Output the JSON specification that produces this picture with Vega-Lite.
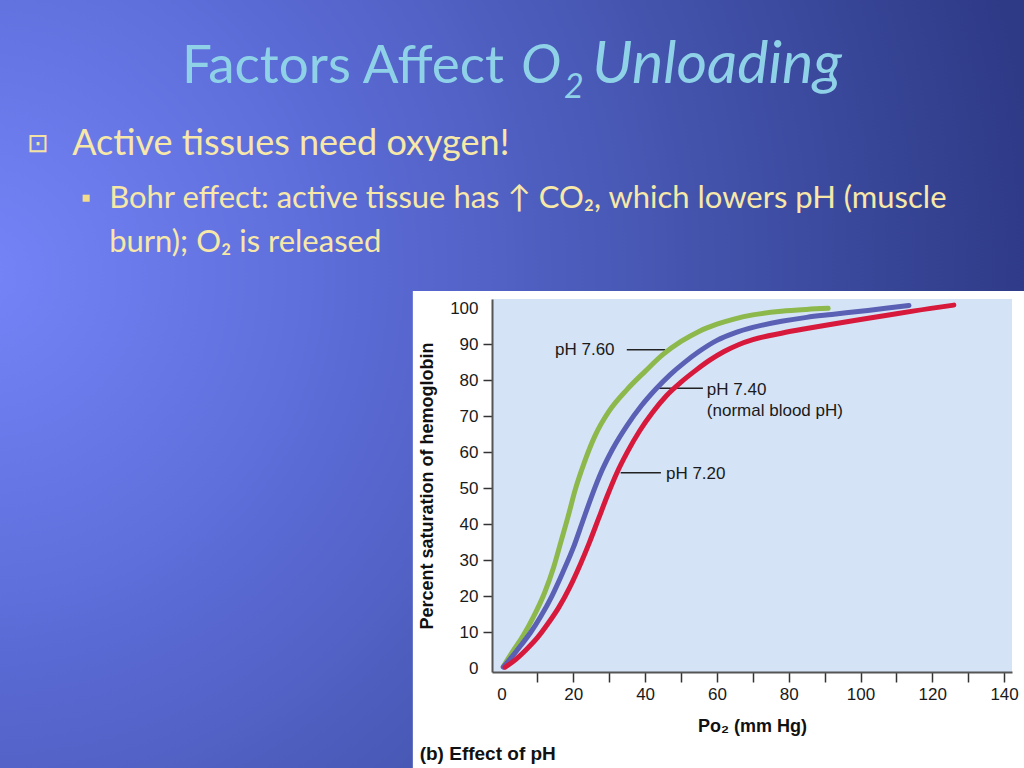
{
  "$schema": "https://vega.github.io/schema/vega-lite/v6.json",
  "width": 520,
  "height": 373,
  "autosize": {"type": "none"},
  "padding": {"left": 492, "top": 299, "right": 12, "bottom": 96},
  "background": "#4a59b4",
  "resolve": {"axis": {"x": "independent", "y": "independent"}},
  "config": {
    "view": {"stroke": null},
    "axis": {
      "grid": false,
      "domainColor": "#555555", "domainWidth": 2,
      "tickColor": "#333333", "tickWidth": 1.5,
      "labelFont": "Liberation Sans", "labelFontSize": 17, "labelColor": "#1a1a1a",
      "titleFont": "Liberation Sans", "titleFontSize": 18, "titleFontWeight": "bold", "titleColor": "#111111"
    }
  },
  "datasets": {
    "curves": [
      {"series": "pH 7.60", "x": 0.5, "y": 0.5}, {"series": "pH 7.60", "x": 3, "y": 4.5}, {"series": "pH 7.60", "x": 6, "y": 9},
      {"series": "pH 7.60", "x": 9, "y": 14.5}, {"series": "pH 7.60", "x": 12, "y": 21}, {"series": "pH 7.60", "x": 14.5, "y": 28},
      {"series": "pH 7.60", "x": 16.5, "y": 35}, {"series": "pH 7.60", "x": 18.5, "y": 42}, {"series": "pH 7.60", "x": 20.5, "y": 49.5},
      {"series": "pH 7.60", "x": 23, "y": 57}, {"series": "pH 7.60", "x": 26, "y": 64.5}, {"series": "pH 7.60", "x": 30, "y": 71.5},
      {"series": "pH 7.60", "x": 35, "y": 77.5}, {"series": "pH 7.60", "x": 40, "y": 82.5}, {"series": "pH 7.60", "x": 45, "y": 87.2},
      {"series": "pH 7.60", "x": 50, "y": 90.8}, {"series": "pH 7.60", "x": 55, "y": 93.6}, {"series": "pH 7.60", "x": 60, "y": 95.6},
      {"series": "pH 7.60", "x": 65, "y": 97.1}, {"series": "pH 7.60", "x": 70, "y": 98.2}, {"series": "pH 7.60", "x": 78, "y": 99.2},
      {"series": "pH 7.60", "x": 85, "y": 99.7}, {"series": "pH 7.60", "x": 91, "y": 100},
      {"series": "pH 7.40", "x": 0.5, "y": 0.3}, {"series": "pH 7.40", "x": 3, "y": 3.3}, {"series": "pH 7.40", "x": 5.5, "y": 6.5},
      {"series": "pH 7.40", "x": 8, "y": 9.8}, {"series": "pH 7.40", "x": 11, "y": 14.5}, {"series": "pH 7.40", "x": 14, "y": 20},
      {"series": "pH 7.40", "x": 17, "y": 26.5}, {"series": "pH 7.40", "x": 20, "y": 33.5}, {"series": "pH 7.40", "x": 22.5, "y": 40.5},
      {"series": "pH 7.40", "x": 25, "y": 47.5}, {"series": "pH 7.40", "x": 28, "y": 55}, {"series": "pH 7.40", "x": 31, "y": 61},
      {"series": "pH 7.40", "x": 35, "y": 67.5}, {"series": "pH 7.40", "x": 39, "y": 73}, {"series": "pH 7.40", "x": 43, "y": 77.6},
      {"series": "pH 7.40", "x": 47, "y": 81.6}, {"series": "pH 7.40", "x": 51, "y": 85}, {"series": "pH 7.40", "x": 55, "y": 88},
      {"series": "pH 7.40", "x": 60, "y": 91.1}, {"series": "pH 7.40", "x": 65, "y": 93.2}, {"series": "pH 7.40", "x": 70, "y": 94.7},
      {"series": "pH 7.40", "x": 78, "y": 96.4}, {"series": "pH 7.40", "x": 85, "y": 97.5}, {"series": "pH 7.40", "x": 92, "y": 98.3},
      {"series": "pH 7.40", "x": 100, "y": 99.2}, {"series": "pH 7.40", "x": 107, "y": 100}, {"series": "pH 7.40", "x": 113.5, "y": 100.8},
      {"series": "pH 7.20", "x": 1, "y": 0.3}, {"series": "pH 7.20", "x": 4, "y": 2.5}, {"series": "pH 7.20", "x": 7, "y": 5.3},
      {"series": "pH 7.20", "x": 10, "y": 8.5}, {"series": "pH 7.20", "x": 13, "y": 12.5}, {"series": "pH 7.20", "x": 16, "y": 17},
      {"series": "pH 7.20", "x": 19, "y": 22.5}, {"series": "pH 7.20", "x": 22, "y": 29}, {"series": "pH 7.20", "x": 24.5, "y": 35},
      {"series": "pH 7.20", "x": 27, "y": 41.5}, {"series": "pH 7.20", "x": 29.5, "y": 48}, {"series": "pH 7.20", "x": 32, "y": 54},
      {"series": "pH 7.20", "x": 35, "y": 60}, {"series": "pH 7.20", "x": 38.5, "y": 66}, {"series": "pH 7.20", "x": 42, "y": 71},
      {"series": "pH 7.20", "x": 46, "y": 75.8}, {"series": "pH 7.20", "x": 50, "y": 79.5}, {"series": "pH 7.20", "x": 54, "y": 82.7},
      {"series": "pH 7.20", "x": 58, "y": 85.6}, {"series": "pH 7.20", "x": 62, "y": 88}, {"series": "pH 7.20", "x": 66, "y": 89.9},
      {"series": "pH 7.20", "x": 70, "y": 91.3}, {"series": "pH 7.20", "x": 78, "y": 93.1}, {"series": "pH 7.20", "x": 85, "y": 94.4},
      {"series": "pH 7.20", "x": 92, "y": 95.6}, {"series": "pH 7.20", "x": 100, "y": 96.9}, {"series": "pH 7.20", "x": 107, "y": 98},
      {"series": "pH 7.20", "x": 115, "y": 99.3}, {"series": "pH 7.20", "x": 126, "y": 100.9}
    ],
    "labels": [
      {"label": "pH 7.60", "x": 14.9, "y": 88.4},
      {"label": "pH 7.40", "x": 57.2, "y": 77.4},
      {"label": "(normal blood pH)", "x": 57.2, "y": 71.5},
      {"label": "pH 7.20", "x": 45.8, "y": 54.1}
    ],
    "leaders": [
      {"x1": 34.9, "x2": 45.6, "y": 88.5},
      {"x1": 42.5, "x2": 56.1, "y": 77.8},
      {"x1": 33.2, "x2": 44.4, "y": 54.3}
    ]
  },
  "layer": [
    {
      "data": {"name": "curves"},
      "mark": {"type": "line", "interpolate": "monotone", "strokeWidth": 5, "strokeCap": "round", "clip": false, "opacity": 0},
      "encoding": {
        "x": {"field": "x", "type": "quantitative",
          "scale": {"domain": [-2.65, 142.2], "nice": false, "zero": false},
          "axis": {"zindex": 2, "values": [0, 10, 20, 30, 40, 50, 60, 70, 80, 90, 100, 110, 120, 130, 140], "title": "Po₂ (mm Hg)", "titlePadding": 15,
            "tickSize": 10, "labelPadding": 4, "labelOverlap": false, "labelExpr": "datum.value % 20 === 0 ? datum.label : ''",
            "tickOpacity": {"condition": {"test": "datum.value == 0", "value": 0}, "value": 1}}},
        "y": {"field": "y", "type": "quantitative",
          "scale": {"domain": [-1.03, 102.6], "nice": false, "zero": false},
          "axis": {"zindex": 2, "values": [0, 10, 20, 30, 40, 50, 60, 70, 80, 90, 100], "title": "Percent saturation of hemoglobin", "titlePadding": 13,
            "tickSize": 9, "labelPadding": 5, "labelOverlap": false,
            "tickOpacity": {"condition": {"test": "datum.value == 0 || datum.value == 100", "value": 0}, "value": 1}}},
        "detail": {"field": "series"}
      }
    },
    {
      "data": {"values": [{}]},
      "mark": {"type": "rect", "clip": false, "fill": {"gradient": "radial", "x1": 0, "y1": 0.4, "r1": 0, "x2": 0, "y2": 0.4, "r2": 1,
        "stops": [{"offset": 0, "color": "#7585f8"}, {"offset": 0.35, "color": "#5b6bd6"}, {"offset": 0.7, "color": "#4252aa"}, {"offset": 1, "color": "#2e3a86"}]}},
      "encoding": {
        "x": {"datum": -145, "type": "quantitative", "axis": null},
        "x2": {"datum": 150},
        "y": {"datum": -30, "type": "quantitative", "axis": null},
        "y2": {"datum": 190}
      }
    },
    {
      "data": {"values": [{}]},
      "mark": {"type": "rect", "clip": false, "fill": "#ffffff"},
      "encoding": {
        "x": {"datum": -24.7, "type": "quantitative", "axis": null},
        "x2": {"datum": 150},
        "y": {"datum": -30, "type": "quantitative", "axis": null},
        "y2": {"datum": 104.8}
      }
    },
    {
      "data": {"values": [{}]},
      "mark": {"type": "rect", "clip": false, "fill": "#d5e3f6"},
      "encoding": {
        "x": {"datum": -2.65, "type": "quantitative", "axis": null},
        "x2": {"datum": 142.2},
        "y": {"datum": -1.03, "type": "quantitative", "axis": null},
        "y2": {"datum": 102.6}
      }
    },
    {
      "data": {"name": "leaders"},
      "mark": {"type": "rule", "color": "#222222", "strokeWidth": 1.5},
      "encoding": {
        "x": {"field": "x1", "type": "quantitative", "axis": null},
        "x2": {"field": "x2"},
        "y": {"field": "y", "type": "quantitative", "axis": null}
      }
    },
    {
      "data": {"name": "curves"},
      "mark": {"type": "line", "interpolate": "monotone", "strokeWidth": 5, "strokeCap": "round", "clip": false},
      "encoding": {
        "x": {"field": "x", "type": "quantitative", "axis": null},
        "y": {"field": "y", "type": "quantitative", "axis": null},
        "color": {"field": "series", "type": "nominal",
          "scale": {"domain": ["pH 7.60", "pH 7.40", "pH 7.20"], "range": ["#8cb84c", "#5a60b4", "#d7193c"]}, "legend": null}
      }
    },
    {
      "data": {"name": "labels"},
      "mark": {"type": "text", "align": "left", "baseline": "middle", "font": "Liberation Sans", "fontSize": 17, "color": "#1a1a1a"},
      "encoding": {
        "x": {"field": "x", "type": "quantitative", "axis": null},
        "y": {"field": "y", "type": "quantitative", "axis": null},
        "text": {"field": "label"}
      }
    },
    {
      "data": {"values": [{"t": "(b)  Effect of pH"}]},
      "mark": {"type": "text", "align": "left", "baseline": "alphabetic", "font": "Liberation Sans", "fontSize": 19, "fontWeight": "bold", "color": "#111111", "clip": false},
      "encoding": {"x": {"datum": -22.8, "type": "quantitative", "axis": null}, "y": {"datum": -25.4, "type": "quantitative", "axis": null}, "text": {"field": "t"}}
    },
    {
      "data": {"values": [{"t": "Factors Affect"}]},
      "mark": {"type": "text", "align": "left", "baseline": "alphabetic", "font": "Lato", "fontSize": 53, "color": "#8fd2e8"},
      "encoding": {"x": {"datum": -89.0, "type": "quantitative", "axis": null}, "y": {"datum": 162.6, "type": "quantitative", "axis": null}, "text": {"field": "t"}}
    },
    {
      "data": {"values": [{"t": "O"}]},
      "mark": {"type": "text", "align": "left", "baseline": "alphabetic", "font": "Lato", "fontSize": 54, "fontStyle": "italic", "color": "#8fd2e8"},
      "encoding": {"x": {"datum": 5.4, "type": "quantitative", "axis": null}, "y": {"datum": 162.6, "type": "quantitative", "axis": null}, "text": {"field": "t"}}
    },
    {
      "data": {"values": [{"t": "2"}]},
      "mark": {"type": "text", "align": "left", "baseline": "alphabetic", "font": "Lato", "fontSize": 34, "fontStyle": "italic", "color": "#8fd2e8"},
      "encoding": {"x": {"datum": 17.4, "type": "quantitative", "axis": null}, "y": {"datum": 158.4, "type": "quantitative", "axis": null}, "text": {"field": "t"}}
    },
    {
      "data": {"values": [{"t": "Unloading"}]},
      "mark": {"type": "text", "align": "left", "baseline": "alphabetic", "font": "Lato", "fontSize": 59, "fontStyle": "italic", "color": "#8fd2e8"},
      "encoding": {"x": {"datum": 25.3, "type": "quantitative", "axis": null}, "y": {"datum": 162.6, "type": "quantitative", "axis": null}, "text": {"field": "t"}}
    },
    {
      "data": {"values": [{"t": "⊡"}]},
      "mark": {"type": "text", "align": "center", "baseline": "middle", "font": "DejaVu Sans", "fontSize": 26, "color": "#f2e3a4"},
      "encoding": {"x": {"datum": -129.1, "type": "quantitative", "axis": null}, "y": {"datum": 145.8, "type": "quantitative", "axis": null}, "text": {"field": "t"}}
    },
    {
      "data": {"values": [{"t": "Active tissues need oxygen!"}]},
      "mark": {"type": "text", "align": "left", "baseline": "alphabetic", "font": "Lato", "fontSize": 36, "color": "#f7e8a8"},
      "encoding": {"x": {"datum": -119.6, "type": "quantitative", "axis": null}, "y": {"datum": 142.6, "type": "quantitative", "axis": null}, "text": {"field": "t"}}
    },
    {
      "data": {"values": [{"t": "bullet"}]},
      "mark": {"type": "point", "shape": "square", "filled": true, "size": 50, "color": "#f2dc8c", "opacity": 1},
      "encoding": {"x": {"datum": -115.7, "type": "quantitative", "axis": null}, "y": {"datum": 130.6, "type": "quantitative", "axis": null}}
    },
    {
      "data": {"values": [{"t": "Bohr effect: active tissue has ↑ CO₂, which lowers pH (muscle"}]},
      "mark": {"type": "text", "align": "left", "baseline": "alphabetic", "font": "Lato", "fontSize": 31, "color": "#f7e8a8"},
      "encoding": {"x": {"datum": -109.3, "type": "quantitative", "axis": null}, "y": {"datum": 127.9, "type": "quantitative", "axis": null}, "text": {"field": "t"}}
    },
    {
      "data": {"values": [{"t": "burn); O₂ is released"}]},
      "mark": {"type": "text", "align": "left", "baseline": "alphabetic", "font": "Lato", "fontSize": 31, "color": "#f7e8a8"},
      "encoding": {"x": {"datum": -109.3, "type": "quantitative", "axis": null}, "y": {"datum": 115.6, "type": "quantitative", "axis": null}, "text": {"field": "t"}}
    }
  ]
}
